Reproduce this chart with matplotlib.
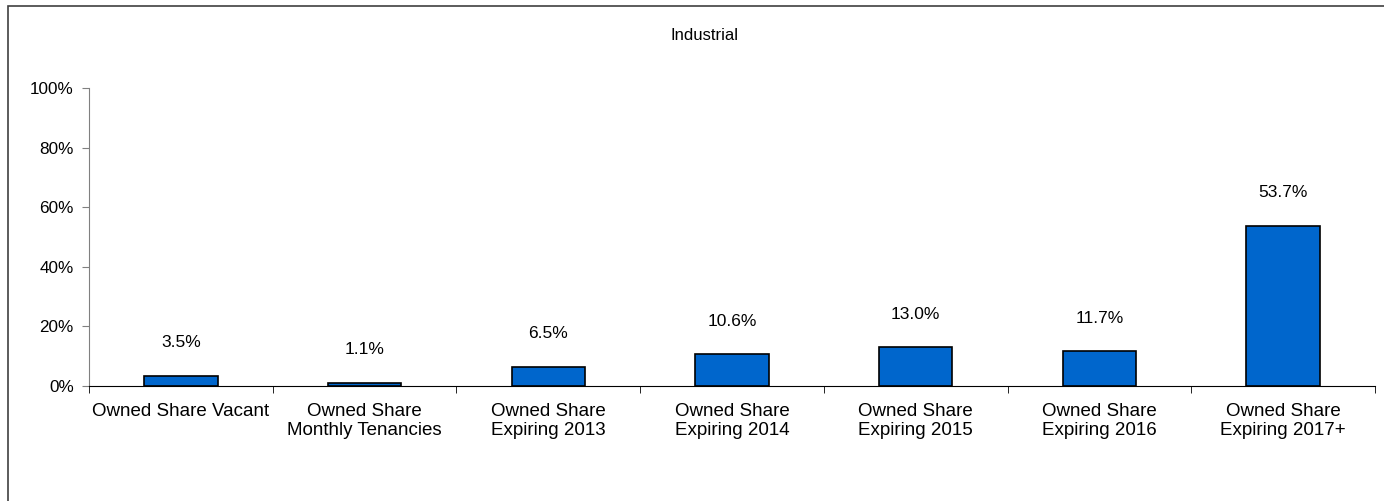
import matplotlib
matplotlib.use('Agg')
import matplotlib.pyplot as plt
from matplotlib.patches import Rectangle
from matplotlib.ticker import FixedLocator, FuncFormatter

plt.rcParams['font.family'] = ['Liberation Sans', 'DejaVu Sans']

categories = ['Owned Share Vacant', 'Owned Share\nMonthly Tenancies',
              'Owned Share\nExpiring 2013', 'Owned Share\nExpiring 2014',
              'Owned Share\nExpiring 2015', 'Owned Share\nExpiring 2016',
              'Owned Share\nExpiring 2017+']
values = [3.5, 1.1, 6.5, 10.6, 13.0, 11.7, 53.7]
yticks = [0, 20, 40, 60, 80, 100]

W, H = 1384, 501
fig = plt.figure(figsize=(W / 100, H / 100), dpi=100)

# chart-area frame running off the right and bottom edges
fig.patches.append(Rectangle((8 / W, -0.1), 1.2, 1 - 6 / H + 0.1,
                             transform=fig.transFigure, fill=False,
                             edgecolor='#404040', linewidth=1.2))

ax = fig.add_axes([89 / W, 1 - 386 / H, (1375 - 89) / W, (386 - 88) / H])
x = list(range(len(values)))
ax.bar(x, values, width=0.4, color='#0066CC', edgecolor='black', linewidth=1.2)

for xi, v in zip(x, values):
    ax.annotate(f'{v:.1f}%', (xi, v), xytext=(0, 33), textcoords='offset pixels',
                ha='center', va='center', fontsize=12.5)

ax.set_xlim(-0.5, len(values) - 0.5)
ax.set_ylim(0, 100)
ax.set_yticks(yticks)
ax.yaxis.set_major_formatter(FuncFormatter(lambda v, p: f'{v:.0f}%'))
ax.set_xticks(x)
ax.set_xticklabels(categories, fontsize=13.5, linespacing=1.2)
ax.tick_params(axis='x', which='major', length=0, pad=12)
ax.xaxis.set_minor_locator(FixedLocator([i - 0.5 for i in range(len(values) + 1)]))
ax.tick_params(axis='x', which='minor', length=5, direction='out', color='black')
ax.tick_params(axis='y', length=5, direction='out', color='#808080', labelsize=12.3, pad=6)

for s in ['top', 'right']:
    ax.spines[s].set_visible(False)
ax.spines['left'].set_color('#808080')
ax.spines['bottom'].set_color('black')

fig.text(705 / W, 1 - 35 / H, 'Industrial', ha='center', va='center', fontsize=12)

fig.savefig('out.png', dpi=100)
